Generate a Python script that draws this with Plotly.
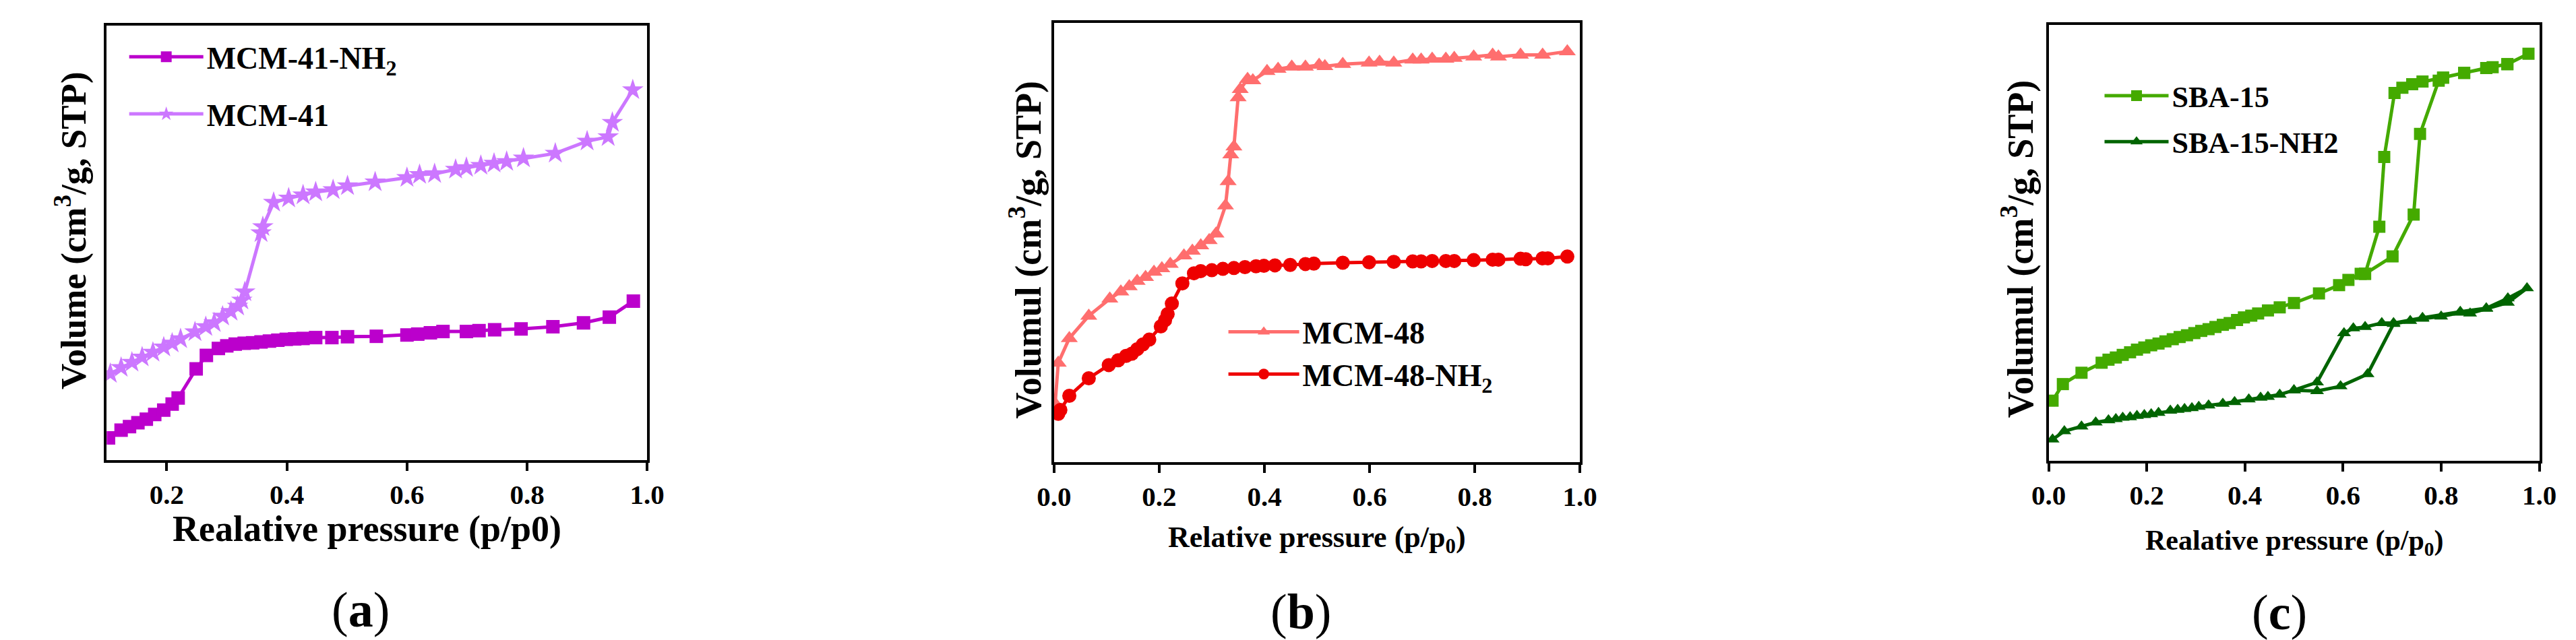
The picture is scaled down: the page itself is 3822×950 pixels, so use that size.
import plotly.graph_objects as go

# ---------------- (a) MCM-41 / MCM-41-NH2 ----------------
mcm41nh2_p = [0.103, 0.124, 0.138, 0.152, 0.166, 0.180, 0.195, 0.209, 0.219, 0.249,
              0.266, 0.286, 0.300, 0.314, 0.329, 0.343, 0.357, 0.371, 0.385, 0.399,
              0.413, 0.427, 0.448, 0.475, 0.501, 0.549, 0.600, 0.618, 0.639, 0.660,
              0.699, 0.720, 0.746, 0.790, 0.843, 0.894, 0.937, 0.977]
mcm41nh2_v = [0.051, 0.069, 0.077, 0.086, 0.094, 0.105, 0.115, 0.129, 0.143, 0.210,
              0.241, 0.257, 0.263, 0.267, 0.269, 0.270, 0.272, 0.274, 0.276, 0.278,
              0.279, 0.280, 0.282, 0.282, 0.284, 0.285, 0.288, 0.290, 0.293, 0.296,
              0.296, 0.298, 0.300, 0.302, 0.307, 0.316, 0.329, 0.366]

mcm41_p = [0.106, 0.124, 0.142, 0.159, 0.177, 0.195, 0.209, 0.223, 0.247, 0.265,
           0.279, 0.293, 0.307, 0.318, 0.325, 0.330, 0.357, 0.360, 0.378, 0.403,
           0.427, 0.448, 0.477, 0.501, 0.547, 0.600, 0.621, 0.646, 0.681, 0.699,
           0.723, 0.745, 0.766, 0.794, 0.847, 0.900, 0.935, 0.942, 0.976]
mcm41_v = [0.199, 0.213, 0.225, 0.237, 0.248, 0.260, 0.269, 0.279, 0.295, 0.307,
           0.316, 0.331, 0.342, 0.354, 0.368, 0.387, 0.523, 0.537, 0.593, 0.603,
           0.610, 0.617, 0.622, 0.631, 0.640, 0.650, 0.657, 0.659, 0.669, 0.673,
           0.678, 0.683, 0.687, 0.695, 0.706, 0.734, 0.744, 0.777, 0.852]

# ---------------- (b) MCM-48 / MCM-48-NH2 ----------------
mcm48_p = [0.002, 0.008, 0.029, 0.066, 0.106, 0.127, 0.143, 0.158, 0.174, 0.190,
           0.205, 0.221, 0.247, 0.263, 0.279, 0.295, 0.308, 0.326, 0.331, 0.336,
           0.342, 0.350, 0.354, 0.368, 0.378, 0.405, 0.426, 0.452, 0.478, 0.504,
           0.515, 0.549, 0.599, 0.619, 0.646, 0.682, 0.698, 0.719, 0.745, 0.761,
           0.798, 0.834, 0.845, 0.887, 0.929, 0.976]
mcm48_v = [0.133, 0.226, 0.282, 0.333, 0.372, 0.388, 0.400, 0.412, 0.421, 0.433,
           0.441, 0.451, 0.470, 0.481, 0.493, 0.505, 0.520, 0.584, 0.639, 0.700,
           0.718, 0.830, 0.849, 0.872, 0.869, 0.890, 0.895, 0.900, 0.900, 0.904,
           0.901, 0.906, 0.909, 0.911, 0.909, 0.916, 0.916, 0.918, 0.918, 0.920,
           0.923, 0.927, 0.923, 0.927, 0.927, 0.935]

mcm48nh2_p = [0.008, 0.012, 0.029, 0.066, 0.104, 0.122, 0.137, 0.148, 0.158, 0.169,
              0.181, 0.203, 0.211, 0.216, 0.224, 0.244, 0.266, 0.279, 0.300, 0.321,
              0.342, 0.363, 0.384, 0.399, 0.420, 0.449, 0.478, 0.494, 0.549, 0.599,
              0.646, 0.682, 0.698, 0.719, 0.745, 0.761, 0.798, 0.834, 0.845, 0.887,
              0.897, 0.929, 0.939, 0.976]
mcm48nh2_v = [0.110, 0.119, 0.151, 0.191, 0.221, 0.232, 0.242, 0.247, 0.257, 0.268,
              0.279, 0.309, 0.323, 0.337, 0.361, 0.407, 0.430, 0.435, 0.437, 0.440,
              0.442, 0.444, 0.446, 0.447, 0.448, 0.449, 0.451, 0.452, 0.454, 0.455,
              0.456, 0.457, 0.457, 0.458, 0.458, 0.458, 0.460, 0.461, 0.461, 0.463,
              0.462, 0.464, 0.464, 0.468]

# ---------------- (c) SBA-15 / SBA-15-NH2 ----------------
sba15_p = [0.008, 0.029, 0.067, 0.108, 0.122, 0.137, 0.151, 0.166, 0.180, 0.195,
           0.209, 0.224, 0.238, 0.253, 0.267, 0.282, 0.297, 0.311, 0.326, 0.340,
           0.355, 0.369, 0.384, 0.398, 0.413, 0.427, 0.447, 0.471, 0.500, 0.551,
           0.592, 0.611, 0.636, 0.645, 0.701, 0.744, 0.757, 0.795, 0.804, 0.847,
           0.892, 0.905, 0.935, 0.978, 0.935, 0.892, 0.847, 0.804, 0.762, 0.741,
           0.721, 0.705, 0.684, 0.674, 0.645]
sba15_v = [0.138, 0.176, 0.202, 0.225, 0.232, 0.237, 0.243, 0.249, 0.255, 0.260,
           0.265, 0.269, 0.274, 0.279, 0.284, 0.288, 0.293, 0.298, 0.302, 0.307,
           0.312, 0.316, 0.323, 0.329, 0.333, 0.338, 0.345, 0.352, 0.362, 0.384,
           0.403, 0.415, 0.429, 0.429, 0.469, 0.565, 0.750, 0.872, 0.879, 0.890,
           0.901, 0.903, 0.910, 0.934, 0.910, 0.901, 0.890, 0.879, 0.870, 0.864,
           0.856, 0.844, 0.697, 0.537, 0.429]

sba15nh2_p = [0.008, 0.032, 0.067, 0.096, 0.122, 0.137, 0.151, 0.166, 0.180, 0.195,
              0.209, 0.224, 0.248, 0.263, 0.277, 0.292, 0.306, 0.326, 0.355, 0.379,
              0.408, 0.432, 0.447, 0.471, 0.500, 0.547, 0.595, 0.650, 0.703, 0.737,
              0.762, 0.800, 0.839, 0.859, 0.892, 0.936, 0.975, 0.936, 0.892, 0.839,
              0.762, 0.703, 0.679, 0.645, 0.621, 0.602, 0.547, 0.500]
sba15nh2_v = [0.049, 0.068, 0.079, 0.088, 0.093, 0.096, 0.099, 0.100, 0.103, 0.105,
              0.107, 0.110, 0.115, 0.117, 0.119, 0.121, 0.124, 0.127, 0.131, 0.135,
              0.141, 0.145, 0.147, 0.152, 0.162, 0.160, 0.171, 0.199, 0.314, 0.321,
              0.326, 0.331, 0.340, 0.338, 0.349, 0.363, 0.396, 0.373, 0.350, 0.342,
              0.328, 0.316, 0.316, 0.307, 0.304, 0.293, 0.180, 0.162]

FONT = "Liberation Serif"

fig = go.Figure()

def add_series(p, v, name, color, symbol, size, ax, legend, group):
    fig.add_trace(go.Scatter(
        x=p, y=v, name=name, mode="lines+markers",
        line=dict(color=color, width=5),
        marker=dict(color=color, symbol=symbol, size=size),
        xaxis="x" + ax, yaxis="y" + ax, legend=legend, legendgroup=group,
    ))

add_series(mcm41nh2_p, mcm41nh2_v, "MCM-41-NH<sub>2</sub>", "#BB00CC", "square", 20, "", "legend", "a1")
add_series(mcm41_p, mcm41_v, "MCM-41", "#CC77FF", "star", 24, "", "legend", "a2")
add_series(mcm48_p, mcm48_v, "MCM-48", "#FF6E6E", "triangle-up", 22, "2", "legend2", "b1")
add_series(mcm48nh2_p, mcm48nh2_v, "MCM-48-NH<sub>2</sub>", "#EE0000", "circle", 21, "2", "legend2", "b2")
add_series(sba15_p, sba15_v, "SBA-15", "#44AA00", "square", 18, "3", "legend3", "c1")
add_series(sba15nh2_p, sba15nh2_v, "SBA-15-NH2", "#006400", "triangle-up", 18, "3", "legend3", "c2")

tickfont = dict(family=FONT, size=41, color="black", weight="bold")

def xaxis(domain, rng, tickvals, anchor):
    return dict(domain=domain, range=rng, anchor=anchor, tickvals=tickvals,
                ticktext=["%.1f" % t for t in tickvals],
                showline=True, linecolor="black", linewidth=3.5, mirror=True,
                ticks="outside", ticklen=12, tickwidth=3.5, tickcolor="black",
                showgrid=False, zeroline=False, tickfont=tickfont)

def yaxis(domain, anchor):
    return dict(domain=domain, range=[0, 1], anchor=anchor,
                showline=True, linecolor="black", linewidth=3.5, mirror=True,
                showticklabels=False, ticks="", showgrid=False, zeroline=False)

def legend_box(x, y, size, gap, width):
    return dict(x=x, y=y, xanchor="left", yanchor="top", bgcolor="rgba(0,0,0,0)",
                font=dict(family=FONT, size=size, color="black", weight="bold"),
                traceorder="grouped", tracegroupgap=gap, itemsizing="trace",
                itemwidth=width)

fig.update_layout(
    width=3822, height=950, margin=dict(l=0, r=0, t=0, b=0),
    paper_bgcolor="white", plot_bgcolor="white",
    xaxis=xaxis([0.03297, 0.24568], [0.1, 1.0], [0.2, 0.4, 0.6, 0.8, 1.0], "y"),
    yaxis=yaxis([0.28947, 0.96842], "x"),
    xaxis2=xaxis([0.40581, 0.61277], [0, 1.0], [0, 0.2, 0.4, 0.6, 0.8, 1.0], "y2"),
    yaxis2=yaxis([0.28632, 0.97263], "x2"),
    xaxis3=xaxis([0.79723, 0.99032], [0, 1.0], [0, 0.2, 0.4, 0.6, 0.8, 1.0], "y3"),
    yaxis3=yaxis([0.28842, 0.96947], "x3"),
    legend=legend_box(0.0405, 0.958, 46, 22, 110),
    legend2=legend_box(0.4731, 0.5284, 46, 0, 105),
    legend3=legend_box(0.8179, 0.8958, 44, 8, 95),
)

def label(text, x, y, size, angle=0, bold=True):
    fig.add_annotation(text=text, x=x, y=y, xref="paper", yref="paper",
                       xanchor="center", yanchor="middle", showarrow=False,
                       textangle=angle,
                       font=dict(family=FONT, size=size, color="black",
                                 weight="bold" if bold else "normal"))

label("Volume (cm<sup>3</sup>/g, STP)", 0.0188, 0.6484, 53, -90)
label("Volumul (cm<sup>3</sup>/g, STP)", 0.3948, 0.6179, 54, -90)
label("Volumul (cm<sup>3</sup>/g, STP)", 0.7852, 0.6190, 54, -90)

label("Realative pressure (p/p0)", 0.1353, 0.1821, 54)
label("Relative pressure (p/p<sub>0</sub>)", 0.5094, 0.1663, 44)
label("Realative pressure (p/p<sub>0</sub>)", 0.8940, 0.1611, 42)

label("(<b>a</b>)", 0.1329, 0.0558, 74, bold=False)
label("(<b>b</b>)", 0.5029, 0.0526, 74, bold=False)
label("(<b>c</b>)", 0.8880, 0.0516, 74, bold=False)

fig.write_html("out.html")
